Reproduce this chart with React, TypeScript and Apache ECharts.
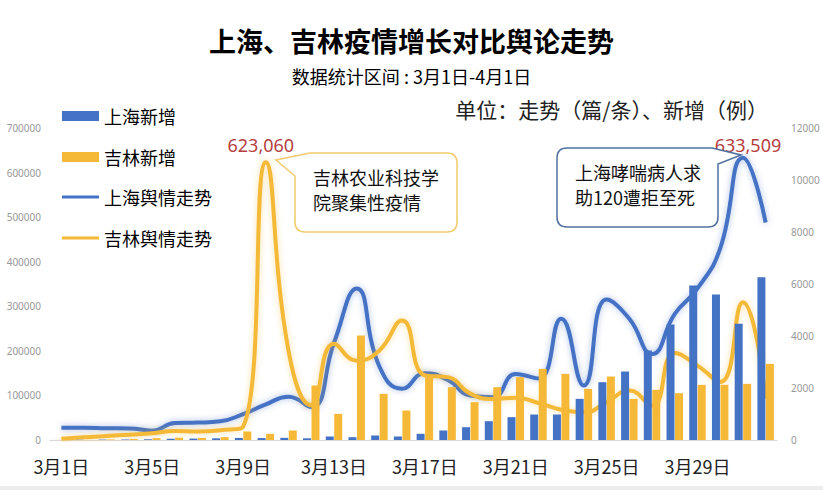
import React, { useEffect, useRef } from "react";
import * as echarts from "echarts";

const categories = [
  "3月1日", "3月2日", "3月3日", "3月4日", "3月5日", "3月6日", "3月7日", "3月8日",
  "3月9日", "3月10日", "3月11日", "3月12日", "3月13日", "3月14日", "3月15日", "3月16日",
  "3月17日", "3月18日", "3月19日", "3月20日", "3月21日", "3月22日", "3月23日", "3月24日",
  "3月25日", "3月26日", "3月27日", "3月28日", "3月29日", "3月30日", "3月31日", "4月1日",
];

// 新增（例）— right axis
const shanghaiNew = [2, 8, 16, 19, 28, 48, 55, 65, 80, 75, 83, 65, 135, 108, 173, 135, 238, 365, 493, 724, 878, 980, 980, 1584, 2223, 2634, 3442, 4442, 5942, 5596, 4468, 6262];
const jilinNew = [3, 5, 20, 40, 70, 90, 80, 110, 327, 238, 365, 2096, 1006, 4019, 1776, 1135, 2416, 2032, 1455, 2032, 2416, 2737, 2545, 1968, 2442, 1584, 1930, 1800, 2122, 2122, 2160, 2930];

// 走势（篇/条）— left axis
const shanghaiTrend = [27400, 27400, 26500, 26000, 21000, 38000, 39000, 42000, 58000, 80000, 97000, 74000, 218000, 340000, 165000, 115000, 150000, 135000, 100000, 96000, 148000, 138000, 272000, 122000, 315000, 272000, 193000, 283000, 340000, 430000, 633509, 488000];
const jilinTrend = [3000, 6000, 9000, 12000, 15000, 20000, 19000, 22000, 30000, 623060, 200000, 78000, 216000, 178000, 201000, 268000, 145000, 141000, 104000, 92000, 95000, 83000, 68000, 62000, 85000, 111000, 77000, 195000, 167000, 130000, 309000, 92000];

const seriesNames = ["上海新增", "吉林新增", "上海舆情走势", "吉林舆情走势"];

const callout1Lines = ["吉林农业科技学", "院聚集性疫情"];
const callout2Lines = ["上海哮喘病人求", "助120遭拒至死"];

const BLUE = "#4472C4";
const YELLOW = "#F5B937";
const RED = "#B5403F";
const FONT = '"Noto Sans CJK SC", "Noto Sans", sans-serif';

echarts.graphic.registerShape(
  "calloutJilin",
  echarts.graphic.extendPath(
    "M310 153 L447 153 Q457 153 457 163 L457 222 Q457 232 447 232 L305 232 Q295 232 295 222 L295 176 L276 160 L310 153 Z",
    {}
  )
);
echarts.graphic.registerShape(
  "calloutShanghai",
  echarts.graphic.extendPath(
    "M567 148 L712 148 L741 155 L718 164 L718 217 Q718 227 708 227 L567 227 Q557 227 557 217 L557 158 Q557 148 567 148 Z",
    {}
  )
);

function fmt(v: number): string {
  const s = String(Math.round(v));
  return s.replace(/\B(?=(\d{3})+(?!\d))/g, ",");
}

export default function App() {
  const ref = useRef<HTMLDivElement>(null);

  useEffect(() => {
    if (!ref.current) return;
    const chart = echarts.init(ref.current, null, { renderer: "svg" });
    const calloutText = (x: number, y: number, text: string) => ({
      type: "text",
      x,
      y,
      z: 11,
      style: {
        text,
        fontSize: 18,
        fill: "#111",
        fontFamily: FONT,
        verticalAlign: "middle",
      },
    });
    const option: any = {
      animation: false,
      backgroundColor: "#ffffff",
      textStyle: { fontFamily: FONT },
      title: [
        {
          text: "上海、吉林疫情增长对比舆论走势",
          left: "center",
          top: 27,
          padding: 0,
          textStyle: { fontSize: 27, fontWeight: "bold", color: "#000", fontFamily: FONT },
        },
        {
          text: "数据统计区间 : 3月1日-4月1日",
          left: "center",
          top: 67,
          padding: 0,
          textStyle: { fontSize: 18, fontWeight: "normal", color: "#000", fontFamily: FONT },
        },
      ],
      legend: [
        {
          data: [
            { name: seriesNames[0], icon: "rect" },
            { name: seriesNames[1], icon: "rect" },
          ],
          orient: "vertical",
          left: 62,
          top: 107,
          padding: 0,
          itemWidth: 37,
          itemHeight: 10,
          itemGap: 23,
          textStyle: { fontSize: 18, color: "#000", fontFamily: FONT, lineHeight: 18 },
        },
        {
          data: [
            { name: seriesNames[2], icon: "rect" },
            { name: seriesNames[3], icon: "rect" },
          ],
          orient: "vertical",
          left: 62,
          top: 188,
          padding: 0,
          itemWidth: 37,
          itemHeight: 3,
          itemGap: 23,
          textStyle: { fontSize: 18, color: "#000", fontFamily: FONT, lineHeight: 18 },
        },
      ],
      grid: { left: 50, right: 46, top: 128, bottom: 50, containLabel: false },
      xAxis: {
        type: "category",
        data: categories,
        boundaryGap: true,
        axisTick: { show: false },
        axisLine: { lineStyle: { color: "#d9d9d9", width: 1 } },
        axisLabel: { interval: 3, fontSize: 18, color: "#222", margin: 17, fontFamily: FONT },
      },
      yAxis: [
        {
          type: "value",
          min: 0,
          max: 700000,
          interval: 100000,
          position: "left",
          splitLine: { show: false },
          axisLine: { show: false },
          axisTick: { show: false },
          axisLabel: {
            fontSize: 10,
            color: "#999",
            margin: 9,
            fontFamily: "Noto Sans, sans-serif",
            formatter: (v: number) => String(v),
          },
        },
        {
          type: "value",
          min: 0,
          max: 12000,
          interval: 2000,
          position: "right",
          splitLine: { show: false },
          axisLine: { show: false },
          axisTick: { show: false },
          axisLabel: {
            fontSize: 10,
            color: "#999",
            margin: 14,
            fontFamily: "Noto Sans, sans-serif",
            formatter: (v: number) => String(v),
          },
        },
      ],
      series: [
        {
          name: seriesNames[0],
          type: "bar",
          yAxisIndex: 1,
          data: shanghaiNew,
          barWidth: 8,
          barGap: "6%",
          itemStyle: { color: BLUE },
          z: 3,
        },
        {
          name: seriesNames[1],
          type: "bar",
          yAxisIndex: 1,
          data: jilinNew,
          barWidth: 8,
          barGap: "6%",
          itemStyle: { color: YELLOW },
          z: 3,
        },
        {
          name: seriesNames[2],
          type: "line",
          yAxisIndex: 0,
          data: shanghaiTrend,
          smooth: 0.5,
          symbol: "none",
          showSymbol: false,
          itemStyle: { color: BLUE },
          lineStyle: {
            color: BLUE,
            width: 4,
            shadowColor: "rgba(68,114,196,0.45)",
            shadowBlur: 6,
          },
          z: 2,
          markPoint: {
            symbol: "circle",
            symbolSize: 0,
            data: [{ type: "max" }],
            label: {
              show: true,
              position: "inside",
              offset: [5, -13],
              formatter: (p: any) => fmt(p.value),
              color: RED,
              fontSize: 18,
              fontFamily: "Noto Sans, sans-serif",
            },
          },
        },
        {
          name: seriesNames[3],
          type: "line",
          yAxisIndex: 0,
          data: jilinTrend,
          smooth: 0.5,
          symbol: "none",
          showSymbol: false,
          itemStyle: { color: YELLOW },
          lineStyle: {
            color: YELLOW,
            width: 4,
            shadowColor: "rgba(245,185,55,0.45)",
            shadowBlur: 6,
          },
          z: 2,
          markPoint: {
            symbol: "circle",
            symbolSize: 0,
            data: [{ type: "max" }],
            label: {
              show: true,
              position: "inside",
              offset: [-5, -17],
              formatter: (p: any) => fmt(p.value),
              color: RED,
              fontSize: 18,
              fontFamily: "Noto Sans, sans-serif",
            },
          },
        },
      ],
      graphic: [
        {
          type: "text",
          right: 55,
          top: 98,
          style: {
            text: "单位：走势（篇/条）、新增（例）",
            fontSize: 21,
            fill: "#222",
            fontFamily: FONT,
          },
        },
        {
          type: "calloutJilin",
          x: 0,
          y: 0,
          z: 10,
          style: { fill: "#ffffff", stroke: "#F2CB6C", lineWidth: 1.5 },
        },
        calloutText(313, 177, callout1Lines[0]),
        calloutText(313, 202, callout1Lines[1]),
        {
          type: "calloutShanghai",
          x: 0,
          y: 0,
          z: 10,
          style: { fill: "#ffffff", stroke: "#50709F", lineWidth: 1.5 },
        },
        calloutText(575, 172, callout2Lines[0]),
        calloutText(575, 197, callout2Lines[1]),
        {
          type: "rect",
          left: 0,
          top: 486,
          z: 0,
          shape: { width: 823, height: 4 },
          style: { fill: "#ececec" },
        },
      ],
    };
    chart.setOption(option);
    return () => chart.dispose();
  }, []);

  return (
    <div
      ref={ref}
      style={{ position: "fixed", left: 0, top: 0, width: 823, height: 490, background: "#fff" }}
    />
  );
}
